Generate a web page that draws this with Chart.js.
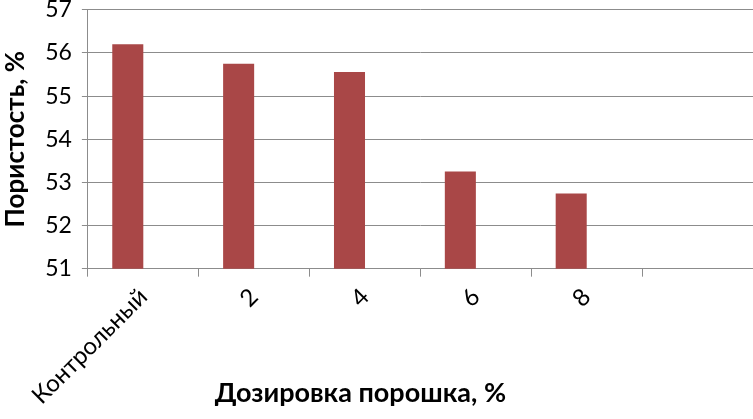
<!DOCTYPE html>
<html>
<head>
<meta charset="utf-8">
<script src="https://cdn.jsdelivr.net/npm/chart.js@4"></script>
<style>
  html, body { margin: 0; padding: 0; background: #fff; overflow: hidden; }
  #canvas { display: block; margin-top: -14px; }
</style>
</head>
<body>
<canvas id="canvas" width="753" height="433"></canvas>
<script>
// data
var categories = ['Контрольный', '2', '4', '6', '8', ''];
var porosity = [56.2, 55.75, 55.56, 53.25, 52.74, null];
// second (empty) series of the original sheet, keeps bars left of centre
var emptySeries = [null, null, null, null, null, null];

var fontFamily = 'Lato, "Open Sans", sans-serif';

// draws the x axis title over the rotated label area, like the original
var xTitle = {
  id: 'xTitle',
  afterDraw: function(chart) {
    var c = chart.ctx;
    var a = chart.chartArea;
    c.save();
    c.font = 'bold 27px ' + fontFamily;
    c.fillStyle = '#000';
    c.textAlign = 'center';
    c.textBaseline = 'middle';
    c.fillText('Дозировка порошка, %', (a.left + a.right) / 2 - 60, 407);
    c.restore();
  }
};

var ctx = document.getElementById('canvas').getContext('2d');
var chart = new Chart(ctx, {
  type: 'bar',
  data: {
    labels: categories,
    datasets: [
      {
        label: 'Пористость',
        data: porosity,
        backgroundColor: '#a94747',
        categoryPercentage: 0.56,
        barPercentage: 1.0
      },
      {
        label: '',
        data: emptySeries,
        backgroundColor: 'transparent',
        categoryPercentage: 0.56,
        barPercentage: 1.0
      }
    ]
  },
  options: {
    responsive: false,
    animation: false,
    layout: { padding: { top: 0, right: 0, left: 0, bottom: 3 } },
    plugins: {
      legend: { display: false },
      tooltip: { enabled: false }
    },
    scales: {
      x: {
        grid: {
          offset: true,
          drawOnChartArea: false,
          drawTicks: true,
          tickLength: 8,
          color: '#8c8c8c'
        },
        border: { color: '#8c8c8c', width: 1 },
        ticks: {
          autoSkip: false,
          minRotation: 45,
          maxRotation: 45,
          color: '#000',
          padding: 6,
          font: { family: fontFamily, size: 24 }
        }
      },
      y: {
        min: 51,
        max: 57,
        ticks: {
          stepSize: 1,
          color: '#000',
          padding: 10,
          font: { family: fontFamily, size: 23 }
        },
        grid: {
          color: '#8c8c8c',
          tickLength: 6
        },
        border: { color: '#8c8c8c', width: 1 },
        title: {
          display: true,
          text: 'Пористость, %',
          color: '#000',
          padding: { top: 0, bottom: 4 },
          font: { family: fontFamily, size: 26, weight: 'bold' }
        }
      }
    }
  },
  plugins: [xTitle]
});
</script>
</body>
</html>
